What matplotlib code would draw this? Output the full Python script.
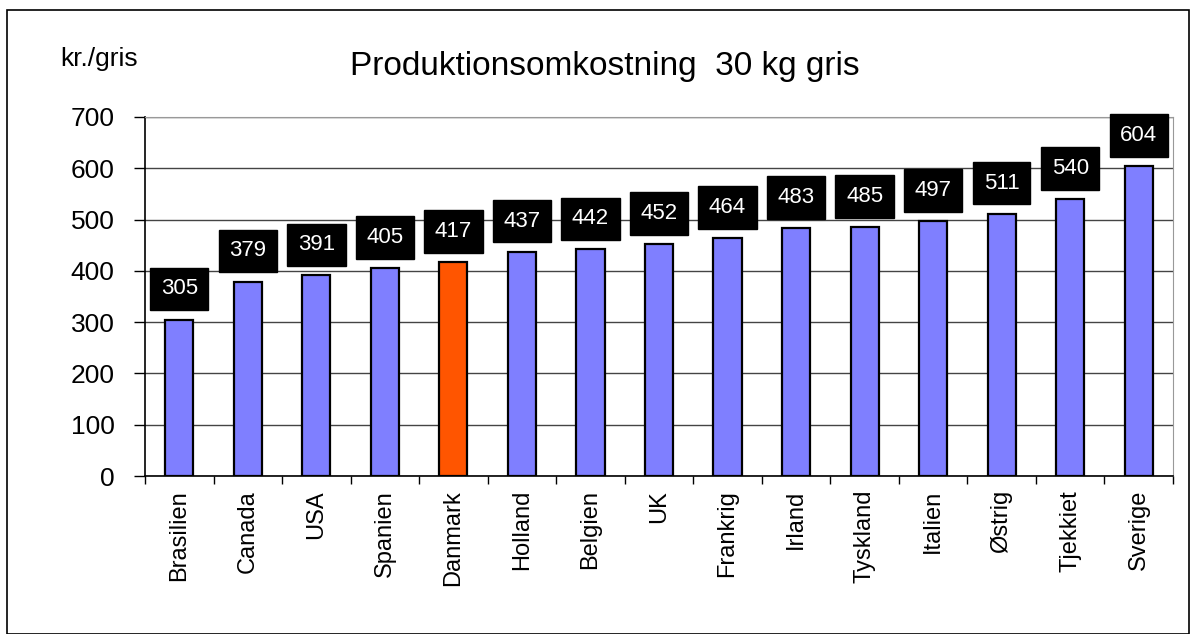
import matplotlib
matplotlib.use("Agg")
import matplotlib.pyplot as plt
import numpy as np
from matplotlib.patches import Rectangle

plt.rcParams['font.family'] = ['Liberation Sans', 'DejaVu Sans']

countries = ["Brasilien", "Canada", "USA", "Spanien", "Danmark", "Holland", "Belgien",
             "UK", "Frankrig", "Irland", "Tyskland", "Italien", "Østrig", "Tjekkiet", "Sverige"]
values = [305, 379, 391, 405, 417, 437, 442, 452, 464, 483, 485, 497, 511, 540, 604]
highlight = "Danmark"
yticks = [0, 100, 200, 300, 400, 500, 600, 700]

fig = plt.figure(figsize=(11.9, 6.34), dpi=100)
fig.patches.append(Rectangle((7/1190, 0.0), 1 - 8/1190, 1 - 10/634, transform=fig.transFigure,
                             fill=False, edgecolor='black', linewidth=1.2))
ax = fig.add_axes([145/1190, 1 - 476/634, (1173 - 145)/1190, (476 - 117)/634])

x = np.arange(len(countries))
colors = ['#ff5500' if c == highlight else '#7f7fff' for c in countries]
bars = ax.bar(x, values, width=0.41, color=colors, edgecolor='black', linewidth=1.6, zorder=3)

ax.set_xlim(-0.5, len(countries) - 0.5)
ax.set_ylim(0, 700)
ax.set_yticks(yticks)
ax.set_yticklabels([str(t) for t in yticks], fontsize=19)
ax.yaxis.grid(True, color='#444444', linewidth=1.0, zorder=0)
ax.set_axisbelow(True)

ax.set_xticks(x)
ax.set_xticklabels(countries, rotation=90, fontsize=17)
ax.tick_params(axis='x', which='major', length=0, pad=10)
ax.set_xticks(np.arange(-0.5, len(countries), 1), minor=True)
ax.tick_params(axis='x', which='minor', length=6, width=1, direction='out')
ax.tick_params(axis='y', length=8, width=1, direction='out', pad=14)

for s in ['top', 'right']:
    ax.spines[s].set_color('#999999')
for s in ['left', 'bottom']:
    ax.spines[s].set_color('black')
    ax.spines[s].set_linewidth(1.2)

for xi, v in zip(x, values):
    ax.annotate(str(v), (xi, v), xytext=(0, 14.5), textcoords='offset points',
                ha='center', va='bottom', color='white', fontsize=16, zorder=5,
                bbox=dict(boxstyle='square,pad=0.48', facecolor='black', edgecolor='black'))

fig.text(605/1190, 1 - 66/634, "Produktionsomkostning  30 kg gris", ha='center', va='center', fontsize=24)
fig.text(60/1190, 1 - 59/634, "kr./gris", ha='left', va='center', fontsize=19)

fig.savefig("out.png", dpi=100)
